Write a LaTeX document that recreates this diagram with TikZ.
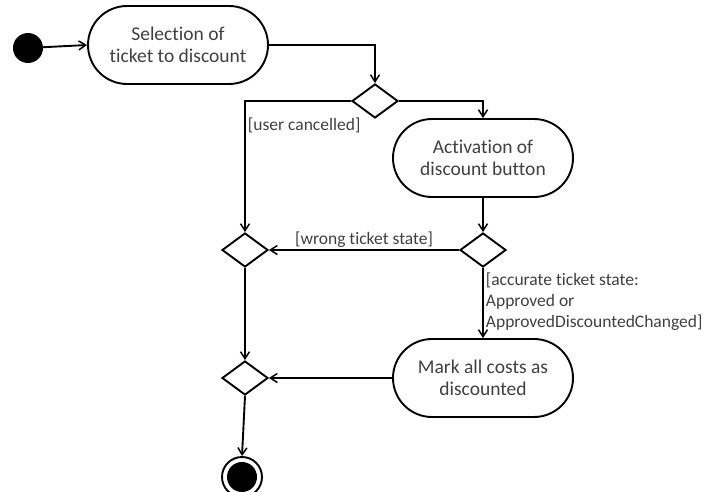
\documentclass[tikz,border=0pt]{standalone}
\usepackage{fontspec}
\setmainfont{Carlito}[Ligatures={NoCommon}]
\usetikzlibrary{shapes.misc,shapes.geometric,arrows.meta}
\definecolor{txt}{HTML}{404040}
\begin{document}
\begin{tikzpicture}[x=1pt,y=-1pt,
  flow/.style={line width=1.9pt,-{Straight Barb[length=7pt,width=9pt,line width=1.5pt]}},
  activity/.style={rounded rectangle,draw,line width=1.9pt,minimum width=180pt,minimum height=78pt,
    align=center,text=txt,font=\fontsize{19.5}{22}\selectfont,inner sep=0pt},
  choice/.style={diamond,draw,line width=1.9pt,minimum width=46pt,minimum height=34pt,inner sep=0pt},
  guard/.style={text=txt,font=\fontsize{17.5}{21}\selectfont,inner sep=1pt,align=left}]
\useasboundingbox (0,0) rectangle (709,492);

% activities and control nodes
\node[circle,fill=black,minimum size=30pt,inner sep=0pt] (start) at (28,48) {};
\node[activity] (sel) at (178,45) {Selection of\\ticket to discount};
\node[choice] (d1) at (375,101) {};
\node[activity] (act) at (483,158) {Activation of\\discount button};
\node[choice] (d2) at (245,250) {};
\node[choice] (d3) at (483,250) {};
\node[activity] (mark) at (483,378) {Mark all costs as\\discounted};
\node[choice] (d4) at (245,378) {};
\node[circle,draw,line width=1.9pt,minimum size=40pt,inner sep=0pt] (end) at (242,477) {};
\fill (end.center) circle (15pt);

% control flow
\draw[flow] (start) -- (sel.west);
\draw[flow] (sel.east) -| (d1.north);
\draw[flow] (d1.west) -| (d2.north)
  node[pos=0.5,anchor=north west,guard,xshift=1pt,yshift=-15pt] {[user cancelled]};
\draw[flow] (d1.east) -| (act.north);
\draw[flow] (act.south) -- (d3.north);
\draw[flow] (d3.west) -- (d2.east)
  node[midway,above,guard,yshift=1pt] {[wrong ticket state]};
\draw[flow] (d3.south) -- (mark.north)
  node[pos=0,anchor=north west,guard,xshift=1pt,yshift=-3pt] {[accurate ticket state:\\Approved or\\ApprovedDiscountedChanged]};
\draw[flow] (mark.west) -- (d4.east);
\draw[flow] (d2.south) -- (d4.north);
\draw[flow] (d4.south) -- (end.north);
\end{tikzpicture}
\end{document}
